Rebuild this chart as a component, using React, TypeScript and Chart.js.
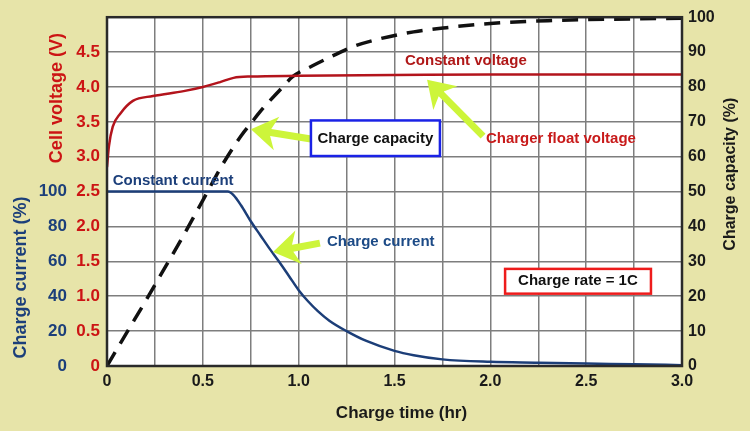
import React, { useEffect, useRef } from "react";
import { Chart, registerables } from "chart.js";

Chart.register(...registerables);

// ---------- data ----------
const voltageTime = [0, 0.01, 0.03, 0.07, 0.135, 0.24, 0.4, 0.5, 0.59, 0.66, 0.75, 1.0, 1.5, 2.0, 2.5, 3.0];
const voltageValues = [2.85, 3.15, 3.43, 3.62, 3.8, 3.87, 3.94, 4.0, 4.07, 4.13, 4.15, 4.16, 4.17, 4.18, 4.18, 4.18];

const currentTime = [0, 0.3, 0.63, 0.66, 0.7, 0.75, 0.8, 0.85, 0.9, 0.95, 1.0, 1.05, 1.1, 1.16, 1.25, 1.35, 1.5, 1.6, 1.75, 2.0, 2.25, 2.5, 2.75, 3.0];
const currentValues = [100, 100, 100, 98, 92, 83, 75, 67, 59.5, 51.5, 43.5, 37, 31.5, 26, 20, 14.5, 8.7, 6.2, 3.8, 2.4, 1.9, 1.4, 1.0, 0.5];

const capacityTime = [0, 0.1, 0.2, 0.3, 0.4, 0.5, 0.6, 0.7, 0.75, 0.8, 0.9, 0.97, 1.07, 1.2, 1.28, 1.4, 1.6, 1.77, 2.0, 2.3, 2.6, 3.0];
const capacityValues = [0, 9.3, 18.5, 28, 37.5, 47.5, 57.5, 66, 69.5, 73, 79, 83, 86, 89.5, 91.5, 93.5, 95.8, 97, 98.2, 99, 99.4, 99.7];

const xTickLabels = ["0", "0.5", "1.0", "1.5", "2.0", "2.5", "3.0"];
const voltageTickLabels = ["0", "0.5", "1.0", "1.5", "2.0", "2.5", "3.0", "3.5", "4.0", "4.5"];
const currentTickLabels = ["0", "20", "40", "60", "80", "100"];
const capacityTickLabels = ["0", "10", "20", "30", "40", "50", "60", "70", "80", "90", "100"];

// annotation texts, placed in data units (time hr, cell voltage V)
const annotationTexts = [
  { text: "Constant current", t: 0.03, v: 2.66, color: "#1c3f7a", align: "left" },
  { text: "Constant voltage", t: 1.555, v: 4.37, color: "#b01818", align: "left" },
  { text: "Charge capacity", t: 1.4, v: 3.25, color: "#111111", align: "center" },
  { text: "Charger float voltage", t: 1.977, v: 3.25, color: "#c81a1a", align: "left" },
  { text: "Charge current", t: 1.148, v: 1.776, color: "#1c4a86", align: "left" },
  { text: "Charge rate = 1C", t: 2.457, v: 1.214, color: "#111111", align: "center" },
];
const annotationBoxes = [
  { t0: 1.064, t1: 1.737, v0: 3.01, v1: 3.52, color: "#1a22e6" },
  { t0: 2.077, t1: 2.838, v0: 1.037, v1: 1.392, color: "#ee1c1c" },
];
const annotationArrows = [
  { t0: 1.064, v0: 3.253, t1: 0.751, v1: 3.395 },
  { t0: 1.962, v0: 3.295, t1: 1.67, v1: 4.105 },
  { t0: 1.111, v0: 1.761, t1: 0.866, v1: 1.634 },
];

const FONT = '"Liberation Sans", Arial, Helvetica, sans-serif';
const BG = "#e7e4a9";
const RED = "#cc1414";
const NAVY = "#1c3f7a";

function pts(xs: number[], ys: number[]) {
  return xs.map((x, i) => ({ x, y: ys[i] }));
}

function drawArrow(ctx: CanvasRenderingContext2D, x1: number, y1: number, x2: number, y2: number) {
  const ang = Math.atan2(y2 - y1, x2 - x1);
  const len = Math.hypot(x2 - x1, y2 - y1);
  const headLen = 20;
  const headW = 17;
  const shaftW = 7;
  ctx.save();
  ctx.translate(x2, y2);
  ctx.rotate(ang);
  ctx.fillStyle = "#cdf53a";
  ctx.beginPath();
  ctx.moveTo(0, 0);
  ctx.lineTo(-headLen - 6, -headW);
  ctx.lineTo(-headLen, -shaftW / 2);
  ctx.lineTo(-len, -shaftW / 2);
  ctx.lineTo(-len, shaftW / 2);
  ctx.lineTo(-headLen, shaftW / 2);
  ctx.lineTo(-headLen - 6, headW);
  ctx.closePath();
  ctx.fill();
  ctx.restore();
}

const decorPlugin = {
  id: "decor",
  beforeDraw(chart: any) {
    const { ctx, chartArea } = chart;
    ctx.save();
    ctx.fillStyle = BG;
    ctx.fillRect(0, 0, chart.width, chart.height);
    ctx.fillStyle = "#ffffff";
    ctx.fillRect(chartArea.left, chartArea.top, chartArea.right - chartArea.left, chartArea.bottom - chartArea.top);
    ctx.restore();
  },
  afterDatasetsDraw(chart: any) {
    const { ctx, chartArea } = chart;
    const xs = chart.scales.x;
    const ys = chart.scales.y;
    const P = (t: number, v: number) => ({ x: xs.getPixelForValue(t), y: ys.getPixelForValue(v) });
    ctx.save();
    // plot frame
    ctx.strokeStyle = "#2a2a2a";
    ctx.lineWidth = 2.5;
    ctx.strokeRect(chartArea.left, chartArea.top, chartArea.right - chartArea.left, chartArea.bottom - chartArea.top);

    // arrows
    annotationArrows.forEach((a) => {
      const p0 = P(a.t0, a.v0);
      const p1 = P(a.t1, a.v1);
      drawArrow(ctx, p0.x, p0.y, p1.x, p1.y);
    });
    // boxes
    annotationBoxes.forEach((b) => {
      const p0 = P(b.t0, b.v1);
      const p1 = P(b.t1, b.v0);
      ctx.fillStyle = "#ffffff";
      ctx.fillRect(p0.x, p0.y, p1.x - p0.x, p1.y - p0.y);
      ctx.strokeStyle = b.color;
      ctx.lineWidth = 2.5;
      ctx.strokeRect(p0.x, p0.y, p1.x - p0.x, p1.y - p0.y);
    });
    // texts
    ctx.font = `bold 15px ${FONT}`;
    ctx.textBaseline = "middle";
    annotationTexts.forEach((a) => {
      const p = P(a.t, a.v);
      ctx.fillStyle = a.color;
      ctx.textAlign = a.align as CanvasTextAlign;
      ctx.fillText(a.text, p.x, p.y);
    });

    // axis titles
    ctx.textAlign = "center";
    ctx.textBaseline = "middle";
    const rot = (text: string, x: number, y: number, color: string, size: number) => {
      ctx.save();
      ctx.translate(x, y);
      ctx.rotate(-Math.PI / 2);
      ctx.font = `bold ${size}px ${FONT}`;
      ctx.fillStyle = color;
      ctx.fillText(text, 0, 0);
      ctx.restore();
    };
    rot("Cell voltage (V)", 57, ys.getPixelForValue(3.84), RED, 18);
    rot("Charge current (%)", 21, ys.getPixelForValue(1.27), NAVY, 18);
    rot("Charge capacity (%)", 731, ys.getPixelForValue(2.75), "#1a1a1a", 16);
    ctx.font = `bold 17px ${FONT}`;
    ctx.fillStyle = "#1a1a1a";
    ctx.fillText("Charge time (hr)", (chartArea.left + chartArea.right) / 2 + 7, 413);
    ctx.restore();
  },
};

export default function App() {
  const ref = useRef<HTMLCanvasElement | null>(null);
  useEffect(() => {
    if (!ref.current) return;
    const chart = new Chart(ref.current, {
      type: "line",
      data: {
        datasets: [
          {
            label: "Cell voltage",
            data: pts(voltageTime, voltageValues),
            yAxisID: "y",
            borderColor: "#b3141c",
            borderWidth: 2.5,
            pointRadius: 0,
            cubicInterpolationMode: "monotone",
            fill: false,
          },
          {
            label: "Charge current",
            data: pts(currentTime, currentValues),
            yAxisID: "yc",
            borderColor: "#1c3e78",
            borderWidth: 2.5,
            pointRadius: 0,
            cubicInterpolationMode: "monotone",
            fill: false,
          },
          {
            label: "Charge capacity",
            data: pts(capacityTime, capacityValues),
            yAxisID: "y2",
            borderColor: "#111111",
            borderWidth: 3.5,
            borderDash: [16, 10],
            pointRadius: 0,
            cubicInterpolationMode: "monotone",
            fill: false,
          },
        ],
      },
      options: {
        responsive: false,
        maintainAspectRatio: false,
        animation: false,
        devicePixelRatio: 1,
        layout: { padding: { top: 14, left: 0, right: 0, bottom: 0 } },
        plugins: { legend: { display: false }, tooltip: { enabled: false }, title: { display: false } },
        scales: {
          x: {
            type: "linear",
            min: 0,
            max: 3,
            afterFit: (s: any) => {
              s.height = 65;
            },
            border: { display: false },
            grid: { color: "#7e7e7e", lineWidth: 1.5, drawTicks: false },
            ticks: {
              stepSize: 0.25,
              autoSkip: false,
              maxRotation: 0,
              padding: 6,
              color: "#1a1a1a",
              font: { family: FONT, size: 16, weight: "bold" },
              callback: (v: any) => {
                const k = Number(v) * 2;
                return Math.abs(k - Math.round(k)) < 1e-6 ? xTickLabels[Math.round(k)] : "";
              },
            },
          },
          y: {
            type: "linear",
            position: "left",
            min: 0,
            max: 5,
            weight: 0,
            afterFit: (s: any) => {
              s.width = 39;
            },
            border: { display: false },
            grid: { color: "#7e7e7e", lineWidth: 1.5, drawTicks: false },
            ticks: {
              stepSize: 0.5,
              padding: 7,
              color: RED,
              font: { family: FONT, size: 17, weight: "bold" },
              callback: (v: any) => {
                const k = Math.round(Number(v) * 2);
                return voltageTickLabels[k] ?? "";
              },
            },
          },
          yc: {
            type: "linear",
            position: "left",
            min: 0,
            max: 200,
            weight: 1,
            afterFit: (s: any) => {
              s.width = 68;
            },
            border: { display: false },
            grid: { display: false, drawTicks: false },
            ticks: {
              stepSize: 20,
              padding: 1,
              color: NAVY,
              font: { family: FONT, size: 17, weight: "bold" },
              callback: (v: any) => {
                const k = Math.round(Number(v) / 20);
                return currentTickLabels[k] ?? "";
              },
            },
          },
          y2: {
            type: "linear",
            position: "right",
            min: 0,
            max: 100,
            afterFit: (s: any) => {
              s.width = 68;
            },
            border: { display: false },
            grid: { display: false, drawTicks: false },
            ticks: {
              stepSize: 10,
              padding: 6,
              color: "#1a1a1a",
              font: { family: FONT, size: 16, weight: "bold" },
              callback: (v: any) => {
                const k = Math.round(Number(v) / 10);
                return capacityTickLabels[k] ?? "";
              },
            },
          },
        },
      },
      plugins: [decorPlugin],
    } as any);
    return () => chart.destroy();
  }, []);

  return (
    <div style={{ position: "fixed", left: 0, top: 0, width: 750, height: 431, background: BG }}>
      <canvas ref={ref} width={750} height={431} style={{ display: "block", width: 750, height: 431 }} />
    </div>
  );
}
